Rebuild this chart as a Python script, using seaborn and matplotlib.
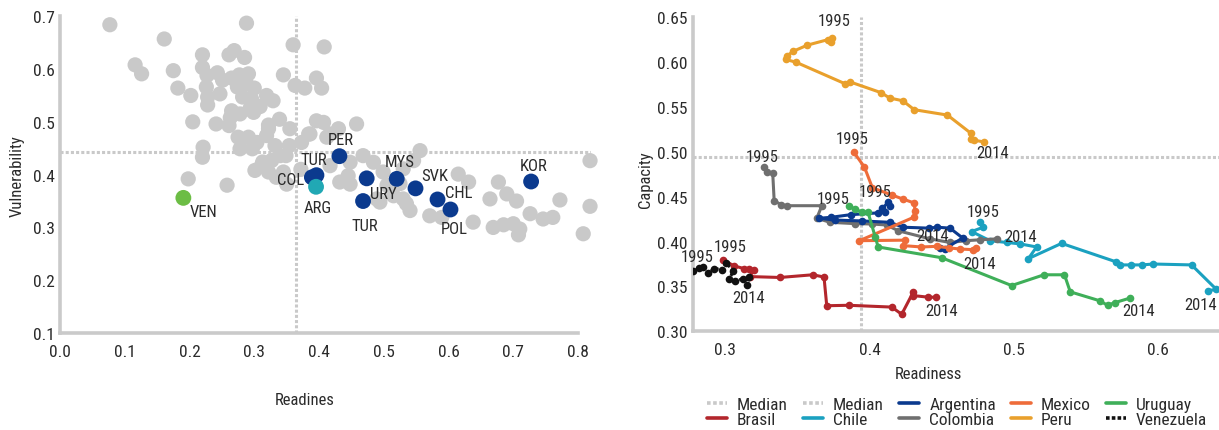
import pandas as pd
import matplotlib
matplotlib.use("Agg")
import matplotlib.pyplot as plt
from matplotlib.lines import Line2D
import seaborn as sns

sns.set_style("white")
plt.rcParams['font.family'] = ['Roboto Condensed', 'Liberation Sans Narrow', 'Liberation Sans']

# ---------------- left panel: readiness vs vulnerability ----------------
gray_x = [0.077, 0.288, 0.161, 0.116, 0.126, 0.175, 0.182, 0.202, 0.205, 0.241, 0.261, 0.220, 0.220,
          0.227, 0.243, 0.226, 0.228, 0.228, 0.247, 0.261, 0.269, 0.285, 0.251, 0.265, 0.277, 0.291,
          0.274, 0.288, 0.300, 0.282, 0.296, 0.319, 0.329, 0.293, 0.309, 0.265, 0.278, 0.263, 0.299,
          0.322, 0.339, 0.355, 0.345, 0.360, 0.363, 0.221, 0.220, 0.198, 0.258, 0.275, 0.291, 0.278,
          0.297, 0.304, 0.319, 0.332, 0.340, 0.349, 0.354, 0.313, 0.301, 0.322, 0.334, 0.408, 0.378,
          0.396, 0.404, 0.396, 0.407, 0.386, 0.417, 0.430, 0.373, 0.327, 0.311, 0.350, 0.432, 0.445,
          0.322, 0.458, 0.384, 0.412, 0.556, 0.468, 0.484, 0.448, 0.417, 0.448, 0.314, 0.345, 0.499,
          0.530, 0.615, 0.631, 0.677, 0.690, 0.705, 0.664, 0.772, 0.8185, 0.8185, 0.489, 0.530, 0.726,
          0.746, 0.761, 0.638, 0.669, 0.685, 0.700, 0.710, 0.708, 0.808, 0.571, 0.5895, 0.535, 0.5405,
          0.494, 0.515, 0.546, 0.525, 0.372, 0.505]
gray_y = [0.684, 0.687, 0.657, 0.608, 0.591, 0.597, 0.564, 0.550, 0.500, 0.496, 0.493, 0.627, 0.603,
          0.588, 0.593, 0.566, 0.547, 0.532, 0.553, 0.627, 0.635, 0.622, 0.579, 0.583, 0.589, 0.591,
          0.566, 0.572, 0.564, 0.547, 0.543, 0.550, 0.540, 0.524, 0.529, 0.521, 0.515, 0.508, 0.518,
          0.494, 0.505, 0.487, 0.589, 0.646, 0.569, 0.452, 0.433, 0.392, 0.380, 0.471, 0.471, 0.449,
          0.449, 0.461, 0.474, 0.455, 0.436, 0.436, 0.455, 0.424, 0.408, 0.405, 0.395, 0.642, 0.564,
          0.583, 0.564, 0.502, 0.499, 0.477, 0.477, 0.487, 0.461, 0.427, 0.417, 0.382, 0.386, 0.398,
          0.487, 0.496, 0.477, 0.471, 0.4455, 0.436, 0.4235, 0.4235, 0.417, 0.382, 0.420, 0.405, 0.405,
          0.411, 0.401, 0.386, 0.386, 0.3635, 0.350, 0.354, 0.352, 0.4265, 0.340, 0.354, 0.354, 0.326,
          0.316, 0.319, 0.310, 0.300, 0.305, 0.307, 0.297, 0.286, 0.288, 0.322, 0.319, 0.345, 0.332,
          0.348, 0.360, 0.4265, 0.383, 0.410, 0.380]

hl_codes = ['TUR', 'COL', 'PER', 'URY', 'TUR', 'MYS', 'SVK', 'CHL', 'POL', 'KOR', 'ARG', 'VEN']
hl_x = [0.396, 0.389, 0.4315, 0.4736, 0.468, 0.520, 0.549, 0.583, 0.603, 0.7275, 0.3954, 0.1905]
hl_y = [0.399, 0.395, 0.435, 0.393, 0.350, 0.392, 0.374, 0.353, 0.334, 0.387, 0.377, 0.356]
hl_group = ['peer'] * 10 + ['Argentina', 'Venezuela']

median_readiness_1 = 0.3645
median_vulnerability = 0.4436

# ---------------- right panel: readiness vs capacity trajectories (1995-2014) ----------------
brasil_x = [0.2985, 0.306, 0.313, 0.3165, 0.3197, 0.317, 0.338, 0.3607, 0.3685, 0.3704, 0.3855,
            0.4154, 0.4223, 0.4304, 0.4304, 0.4408, 0.446]
brasil_y = [0.380, 0.373, 0.370, 0.369, 0.368, 0.361, 0.360, 0.363, 0.3605, 0.3285, 0.329,
            0.327, 0.319, 0.344, 0.3398, 0.338, 0.338]
chile_x = [0.4765, 0.4788, 0.4707, 0.4834, 0.495, 0.504, 0.5157, 0.510, 0.533, 0.5706, 0.5734,
           0.5814, 0.5885, 0.5966, 0.623, 0.640, 0.6345]
chile_y = [0.4215, 0.416, 0.4112, 0.401, 0.399, 0.3975, 0.394, 0.381, 0.398, 0.3775, 0.374,
           0.374, 0.374, 0.375, 0.374, 0.347, 0.345]
argentina_x = [0.414, 0.413, 0.409, 0.411, 0.406, 0.387, 0.373, 0.365, 0.376, 0.395, 0.414,
               0.4234, 0.441, 0.447, 0.4557, 0.4645, 0.452, 0.449]
argentina_y = [0.440, 0.444, 0.437, 0.433, 0.432, 0.430, 0.427, 0.426, 0.424, 0.423, 0.4215,
               0.416, 0.415, 0.416, 0.415, 0.404, 0.392, 0.3925]
colombia_x = [0.327, 0.329, 0.333, 0.334, 0.339, 0.343, 0.367, 0.3635, 0.3727, 0.390, 0.4015,
              0.4118, 0.420, 0.442, 0.4557, 0.467, 0.4765, 0.488]
colombia_y = [0.483, 0.478, 0.476, 0.4455, 0.441, 0.440, 0.440, 0.426, 0.4215, 0.420, 0.4196,
              0.4185, 0.412, 0.403, 0.399, 0.401, 0.402, 0.403]
mexico_x = [0.389, 0.3965, 0.402, 0.4154, 0.423, 0.431, 0.4315, 0.4305, 0.393, 0.4246, 0.4234,
            0.436, 0.4465, 0.455, 0.4626, 0.472, 0.474]
mexico_y = [0.500, 0.483, 0.460, 0.452, 0.4475, 0.443, 0.434, 0.427, 0.401, 0.4016, 0.3955,
            0.394, 0.3947, 0.393, 0.3917, 0.391, 0.393]
peru_x = [0.374, 0.373, 0.371, 0.357, 0.347, 0.343, 0.342, 0.349, 0.383, 0.3865, 0.408, 0.414,
          0.423, 0.431, 0.454, 0.470, 0.470, 0.4725, 0.4795]
peru_y = [0.627, 0.622, 0.625, 0.619, 0.612, 0.607, 0.603, 0.600, 0.576, 0.578, 0.566, 0.560,
          0.557, 0.547, 0.541, 0.521, 0.514, 0.513, 0.511]
uruguay_x = [0.3855, 0.390, 0.3946, 0.399, 0.404, 0.406, 0.450, 0.4984, 0.5208, 0.535, 0.539,
             0.5595, 0.5648, 0.570, 0.5803]
uruguay_y = [0.440, 0.436, 0.433, 0.4326, 0.405, 0.394, 0.382, 0.351, 0.363, 0.363, 0.344,
             0.334, 0.329, 0.332, 0.337]
venezuela_x = [0.278, 0.2817, 0.2846, 0.2885, 0.2926, 0.2977, 0.3007, 0.3058, 0.303, 0.307,
               0.3127, 0.3166, 0.3155]
venezuela_y = [0.3675, 0.371, 0.372, 0.365, 0.370, 0.3687, 0.376, 0.3676, 0.3583, 0.3565,
               0.3583, 0.360, 0.352]

median_readiness_2 = 0.394
median_capacity = 0.4946

countries = ['Brasil', 'Chile', 'Colombia', 'Argentina', 'Mexico', 'Peru', 'Uruguay', 'Venezuela']
series = {'Brasil': (brasil_x, brasil_y), 'Chile': (chile_x, chile_y),
          'Argentina': (argentina_x, argentina_y), 'Colombia': (colombia_x, colombia_y),
          'Mexico': (mexico_x, mexico_y), 'Peru': (peru_x, peru_y),
          'Uruguay': (uruguay_x, uruguay_y), 'Venezuela': (venezuela_x, venezuela_y)}

# styles
GRAY = '#C9C9C9'
SPINE = '#CACACA'
TXT = '#2b2b2b'
FS = 12
colors = {'Brasil': '#B3262C', 'Chile': '#1BA1C0', 'Argentina': '#0B3A8E', 'Colombia': '#6F6F6F',
          'Mexico': '#EE6C3A', 'Peru': '#E9A02C', 'Uruguay': '#3FAF59', 'Venezuela': '#111111'}
hl_palette = {'peer': '#0B3A8E', 'Argentina': '#21A8B4', 'Venezuela': '#6CBD45'}
# label offsets in pixels (dx, dy)
hl_offsets = [(-3, 16), (-21, -2), (1, 17), (17, -15), (2, -24), (3, 17), (19, 13), (21, 7),
              (4, -19), (3, 16), (2, -21), (20, -14)]
start_off = {'Peru': (2, 17), 'Mexico': (-1, 13), 'Colombia': (-2, 11), 'Uruguay': (-15, 7),
             'Argentina': (-15, 14), 'Chile': (3, 11), 'Brasil': (7, 13), 'Venezuela': (4, 14)}
end_off = {'Peru': (8, -10), 'Brasil': (6, -13), 'Venezuela': (1, -13), 'Argentina': (-8, 13),
           'Colombia': (24, 2), 'Mexico': (3, -16), 'Uruguay': (9, -12), 'Chile': (-8, -14)}

fig = plt.figure(figsize=(12.19, 4.31), dpi=100)
ax1 = fig.add_axes([60 / 1219, 1 - 334 / 431, 531 / 1219, 316.7 / 431])
ax2 = fig.add_axes([693.3 / 1219, 1 - 332.3 / 431, 525.7 / 1219, 314 / 431])


def style_axes(ax):
    for s in ['top', 'right']:
        ax.spines[s].set_visible(False)
    for s in ['left', 'bottom']:
        ax.spines[s].set_color(SPINE)
        ax.spines[s].set_linewidth(2.6)
    ax.tick_params(direction='in', length=6, width=2.6, color=SPINE, labelsize=FS + 0.5,
                   labelcolor=TXT)
    ax.tick_params(axis='x', pad=8)
    ax.tick_params(axis='y', pad=4)


med_kw = dict(color=GRAY, linewidth=2.2, linestyle=(0, (1.0, 0.7)), zorder=1)

# left panel
ax1.axvline(median_readiness_1, **med_kw)
ax1.axhline(median_vulnerability, **med_kw)
sns.scatterplot(x=gray_x, y=gray_y, color=GRAY, s=120, edgecolor='none', ax=ax1, zorder=2,
                clip_on=False)
hl = pd.DataFrame({'x': hl_x, 'y': hl_y, 'group': hl_group, 'code': hl_codes})
sns.scatterplot(data=hl, x='x', y='y', hue='group', palette=hl_palette, s=130, edgecolor='none',
                ax=ax1, zorder=3, legend=False)
for (code, x, y), off in zip(zip(hl_codes, hl_x, hl_y), hl_offsets):
    ax1.annotate(code, (x, y), xytext=off, textcoords='offset pixels', ha='center', va='center',
                 fontsize=FS, color=TXT, zorder=4)
ax1.set_xlim(0, 0.82)
ax1.set_ylim(0.1, 0.7)
ax1.set_xticks([i / 10 for i in range(9)])
ax1.set_yticks([i / 10 for i in range(1, 8)])
ax1.set_xticklabels([f'{i / 10:.1f}' for i in range(9)])
ax1.set_yticklabels([f'{i / 10:.1f}' for i in range(1, 8)])
style_axes(ax1)
ax1.spines['bottom'].set_bounds(0, 0.8)
ax1.spines['left'].set_bounds(0.1, 0.7)
ax1.set_xlabel('Readines', fontsize=FS, color=TXT)
ax1.set_ylabel('Vulnerability', fontsize=FS, color=TXT)
ax1.xaxis.set_label_coords(0.461, -0.186)
ax1.yaxis.set_label_coords(-0.066, 0.5)

# right panel
ax2.axvline(median_readiness_2, **med_kw)
ax2.axhline(median_capacity, **med_kw)
for name in countries:
    xs, ys = series[name]
    d = pd.DataFrame({'Readiness': xs, 'Capacity': ys})
    ls = (0, (1.0, 0.8)) if name == 'Venezuela' else '-'
    sns.lineplot(data=d, x='Readiness', y='Capacity', sort=False, estimator=None, ax=ax2,
                 color=colors[name], linewidth=2.2, linestyle=ls, marker='o', markersize=5.5,
                 markeredgewidth=0, zorder=3)
    ax2.annotate('1995', (xs[0], ys[0]), xytext=start_off[name], textcoords='offset pixels',
                 ha='center', va='center', fontsize=FS, color=TXT, zorder=5)
    ax2.annotate('2014', (xs[-1], ys[-1]), xytext=end_off[name], textcoords='offset pixels',
                 ha='center', va='center', fontsize=FS, color=TXT, zorder=5)
ax2.set_xlim(0.278, 0.642)
ax2.set_ylim(0.30, 0.65)
ax2.set_xticks([0.3, 0.4, 0.5, 0.6])
ax2.set_xticklabels(['0.3', '0.4', '0.5', '0.6'])
ax2.set_yticks([0.30 + 0.05 * i for i in range(8)])
ax2.set_yticklabels([f'{0.30 + 0.05 * i:.2f}' for i in range(8)])
style_axes(ax2)
ax2.spines['left'].set_bounds(0.30, 0.65)
ax2.set_xlabel('Readiness', fontsize=FS, color=TXT)
ax2.set_ylabel('Capacity', fontsize=FS, color=TXT)
ax2.xaxis.set_label_coords(0.4465, -0.11)
ax2.yaxis.set_label_coords(-0.077, 0.485)

# legend (column-major: Median/Brasil, Median/Chile, Argentina/Colombia, Mexico/Peru, Uruguay/Venezuela)
leg_order = ['Median', 'Brasil', 'Median', 'Chile', 'Argentina', 'Colombia', 'Mexico', 'Peru',
             'Uruguay', 'Venezuela']
handles = []
for lab in leg_order:
    if lab == 'Median':
        handles.append(Line2D([], [], color=GRAY, linewidth=2.6, linestyle=(0, (1.0, 0.7))))
    elif lab == 'Venezuela':
        handles.append(Line2D([], [], color=colors[lab], linewidth=2.6, linestyle=(0, (1.0, 0.6))))
    else:
        handles.append(Line2D([], [], color=colors[lab], linewidth=2.6))
fig.legend(handles, leg_order, ncol=5, loc='center', bbox_to_anchor=(957 / 1219, 1 - 413 / 431),
           frameon=False, fontsize=FS + 0.5, handlelength=1.15, handletextpad=0.6,
           columnspacing=0.85, labelspacing=0.02, borderpad=0.1, labelcolor=TXT)

fig.savefig('out.png', dpi=100)
